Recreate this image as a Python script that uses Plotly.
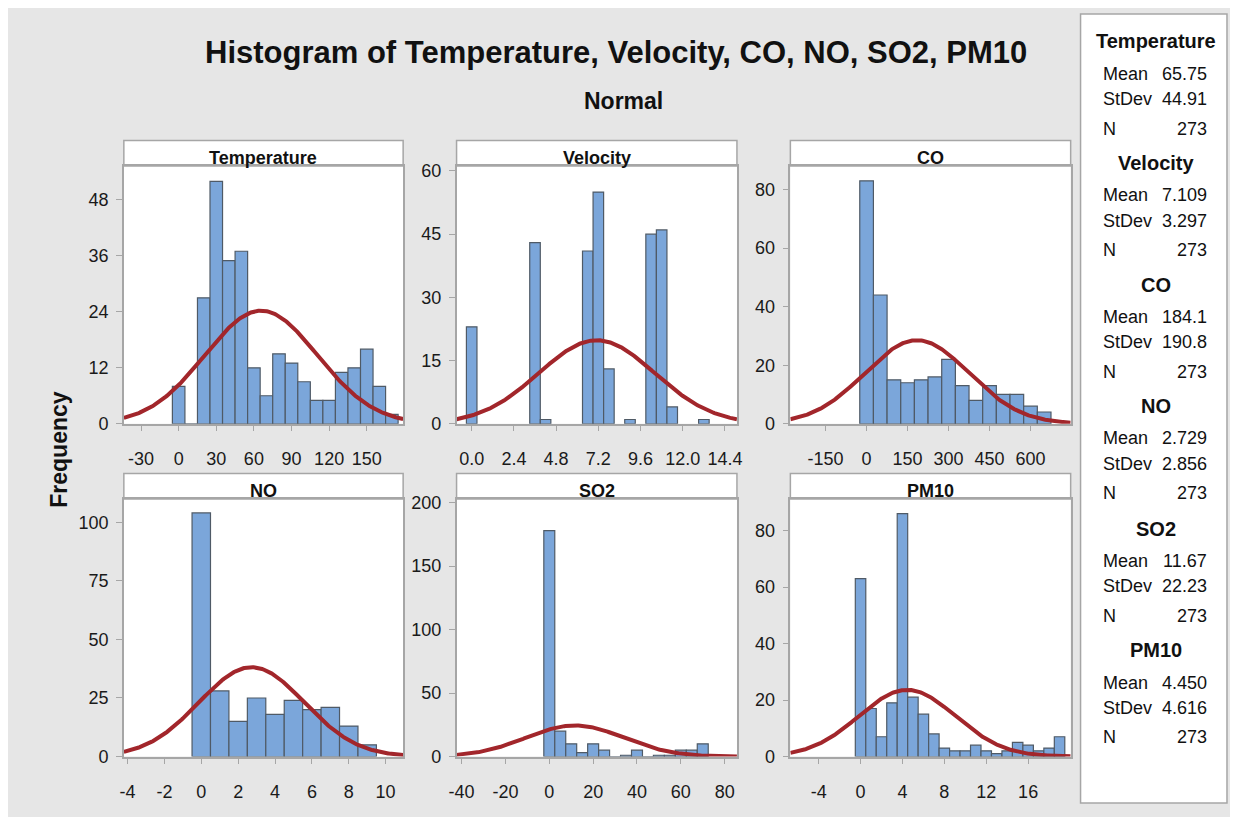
import numpy as np
import plotly.graph_objects as go

# page is 1238x825; browser body keeps an 8px margin, so the figure is 1222x809
PAGE_W, PAGE_H = 1238, 825
OFF = 8
W, H = PAGE_W - 2 * OFF, PAGE_H - 2 * OFF

# ---------------- data ----------------
panel_names = ["Temperature", "Velocity", "CO", "NO", "SO2", "PM10"]

temp_centers = [0, 10, 20, 30, 40, 50, 60, 70, 80, 90, 100, 110, 120, 130, 140, 150, 160, 170]
temp_counts = [8, 0, 27, 52, 35, 37, 12, 6, 15, 13, 9, 5, 5, 11, 12, 16, 8, 2]

vel_centers = [0.0, 3.6, 4.2, 6.6, 7.2, 7.8, 9.0, 10.2, 10.8, 11.4, 13.2]
vel_counts = [23, 43, 1, 41, 55, 13, 1, 45, 46, 4, 1]

co_centers = [0, 50, 100, 150, 200, 250, 300, 350, 400, 450, 500, 550, 600, 650]
co_counts = [83, 44, 15, 14, 15, 16, 22, 13, 8, 13, 10, 10, 6, 4]

no_centers = [0, 1, 2, 3, 4, 5, 6, 7, 8, 9]
no_counts = [104, 28, 15, 25, 18, 24, 20, 21, 13, 5]

so2_centers = [0, 5, 10, 15, 20, 25, 30, 35, 40, 45, 50, 55, 60, 65, 70]
so2_counts = [178, 20, 10, 3, 10, 5, 0, 1, 5, 0, 1, 1, 5, 5, 10]

pm_centers = [0, 1, 2, 3, 4, 5, 6, 7, 8, 9, 10, 11, 12, 13, 14, 15, 16, 17, 18, 19]
pm_counts = [63, 17, 7, 19, 86, 21, 15, 8, 3, 2, 2, 4, 2, 1, 2, 5, 4, 2, 3, 7]

bin_widths = [10, 0.6, 50, 1, 5, 1]

means = [65.75, 7.109, 184.1, 2.729, 11.67, 4.450]
stdevs = [44.91, 3.297, 190.8, 2.856, 22.23, 4.616]
n_obs = [273, 273, 273, 273, 273, 273]
mean_labels = ["65.75", "7.109", "184.1", "2.729", "11.67", "4.450"]
stdev_labels = ["44.91", "3.297", "190.8", "2.856", "22.23", "4.616"]

x_ticks = [
    [-30, 0, 30, 60, 90, 120, 150],
    [0, 2.4, 4.8, 7.2, 9.6, 12.0, 14.4],
    [-150, 0, 150, 300, 450, 600],
    [-4, -2, 0, 2, 4, 6, 8, 10],
    [-40, -20, 0, 20, 40, 60, 80],
    [-4, 0, 4, 8, 12, 16],
]
x_ticktext = [
    ["-30", "0", "30", "60", "90", "120", "150"],
    ["0.0", "2.4", "4.8", "7.2", "9.6", "12.0", "14.4"],
    ["-150", "0", "150", "300", "450", "600"],
    ["-4", "-2", "0", "2", "4", "6", "8", "10"],
    ["-40", "-20", "0", "20", "40", "60", "80"],
    ["-4", "0", "4", "8", "12", "16"],
]
y_ticks = [
    [0, 12, 24, 36, 48],
    [0, 15, 30, 45, 60],
    [0, 20, 40, 60, 80],
    [0, 25, 50, 75, 100],
    [0, 50, 100, 150, 200],
    [0, 20, 40, 60, 80],
]
x_ranges = [[-43.7, 179], [-0.86, 15.08], [-279, 747], [-4.2, 10.95], [-42.3, 85.6], [-6.7, 20.06]]
y_ranges = [[0, 55.3], [0, 61.2], [0, 88.1], [0, 110], [0, 203], [0, 91.2]]

centers_all = [temp_centers, vel_centers, co_centers, no_centers, so2_centers, pm_centers]
counts_all = [temp_counts, vel_counts, co_counts, no_counts, so2_counts, pm_counts]

# ---------------- styling / layout ----------------
FONT = "Liberation Sans, Arial, sans-serif"
BAR_FILL = "#7BA6DA"
BAR_LINE = "#4F5A66"
CURVE = "#A2262B"
FRAME = "#A6A6A6"
BG = "#E6E6E6"
TXT = "#111111"

col_px = [(117, 399.3), (453.3, 736.7), (790.7, 1074)]
row_px = [(163, 426), (502.7, 765.5)]  # plot area top/bottom (page pixels)
strip_h = 26


def fx(x):
    return (x - OFF) / W


def fy(y):
    return 1 - (y - OFF) / H


fig = go.Figure()
layout = dict(
    width=W, height=H, margin=dict(l=0, r=0, t=0, b=0),
    paper_bgcolor=BG, plot_bgcolor="white", showlegend=False,
    font=dict(family=FONT, color=TXT, size=18),
)
shapes = []
annotations = []

for i in range(6):
    r, c = divmod(i, 3)
    k = "" if i == 0 else str(i + 1)
    x0p, x1p = col_px[c]
    y0p, y1p = row_px[r]
    layout["xaxis" + k] = dict(
        domain=[fx(x0p), fx(x1p)], range=x_ranges[i], anchor="y" + k,
        tickmode="array", tickvals=x_ticks[i], ticktext=x_ticktext[i],
        ticks="outside", ticklen=6, tickcolor=FRAME, showgrid=False, zeroline=False,
        showline=True, linecolor=FRAME, mirror=True, linewidth=1.5,
        tickfont=dict(size=18, family=FONT, color="#1A1A1A"), ticklabelstandoff=12,
    )
    layout["yaxis" + k] = dict(
        domain=[fy(y1p), fy(y0p)], range=y_ranges[i], anchor="x" + k,
        tickmode="array", tickvals=y_ticks[i],
        ticks="outside", ticklen=6, tickcolor=FRAME, showgrid=False, zeroline=False,
        showline=True, linecolor=FRAME, mirror=True, linewidth=1.5,
        tickfont=dict(size=18, family=FONT, color="#1A1A1A"), ticklabelstandoff=4,
    )

    fig.add_trace(go.Bar(
        x=centers_all[i], y=counts_all[i], width=bin_widths[i],
        marker=dict(color=BAR_FILL, line=dict(color=BAR_LINE, width=1.2)),
        xaxis="x" + k, yaxis="y" + k, hoverinfo="x+y",
    ))
    xs = np.linspace(x_ranges[i][0], x_ranges[i][1], 300)
    ys = n_obs[i] * bin_widths[i] * np.exp(-0.5 * ((xs - means[i]) / stdevs[i]) ** 2) / (stdevs[i] * np.sqrt(2 * np.pi))
    fig.add_trace(go.Scatter(
        x=xs, y=ys, mode="lines", line=dict(color=CURVE, width=4),
        xaxis="x" + k, yaxis="y" + k, hoverinfo="skip",
    ))

    # strip header
    shapes.append(dict(type="rect", xref="paper", yref="paper",
                       x0=fx(x0p), x1=fx(x1p), y0=fy(y0p), y1=fy(y0p - strip_h),
                       fillcolor="white", line=dict(color=FRAME, width=1.5), layer="below"))
    annotations.append(dict(text="<b>%s</b>" % panel_names[i], xref="paper", yref="paper",
                            x=fx((x0p + x1p) / 2), y=fy(y0p - 8), xanchor="center", yanchor="middle",
                            showarrow=False, font=dict(size=18, family=FONT, color=TXT)))

# legend box
shapes.append(dict(type="rect", xref="paper", yref="paper",
                   x0=fx(1084), x1=fx(1232), y0=fy(813), y1=fy(8),
                   fillcolor="white", line=dict(color=FRAME, width=1.5), layer="below"))

head_y = [36, 160, 284, 408, 533, 657]
for i in range(6):
    hy = head_y[i]
    annotations.append(dict(text="<b>%s</b>" % panel_names[i], xref="paper", yref="paper",
                            x=fx(1160), y=fy(hy), xanchor="center", yanchor="middle",
                            showarrow=False, font=dict(size=20, family=FONT, color=TXT)))
    rows = [("Mean", mean_labels[i], hy + 33), ("StDev", stdev_labels[i], hy + 59), ("N", str(n_obs[i]), hy + 89)]
    for lab, val, yy in rows:
        annotations.append(dict(text=lab, xref="paper", yref="paper", x=fx(1105), y=fy(yy),
                                xanchor="left", yanchor="middle", showarrow=False,
                                font=dict(size=18, family=FONT, color=TXT)))
        annotations.append(dict(text=val, xref="paper", yref="paper", x=fx(1214), y=fy(yy),
                                xanchor="right", yanchor="middle", showarrow=False,
                                font=dict(size=18, family=FONT, color=TXT)))

# titles
annotations.append(dict(text="<b>Histogram of Temperature, Velocity, CO, NO, SO2, PM10</b>",
                        xref="paper", yref="paper", x=fx(614), y=fy(47), xanchor="center", yanchor="middle",
                        showarrow=False, font=dict(size=31, family=FONT, color=TXT)))
annotations.append(dict(text="<b>Normal</b>", xref="paper", yref="paper", x=fx(622), y=fy(97),
                        xanchor="center", yanchor="middle", showarrow=False,
                        font=dict(size=23, family=FONT, color=TXT)))
annotations.append(dict(text="<b>Frequency</b>", xref="paper", yref="paper", x=fx(52), y=fy(452),
                        xanchor="center", yanchor="middle", textangle=-90, showarrow=False,
                        font=dict(size=23, family=FONT, color=TXT)))

layout["shapes"] = shapes
layout["annotations"] = annotations
fig.update_layout(**layout)

fig.write_html("out.html", config={"displayModeBar": False})
